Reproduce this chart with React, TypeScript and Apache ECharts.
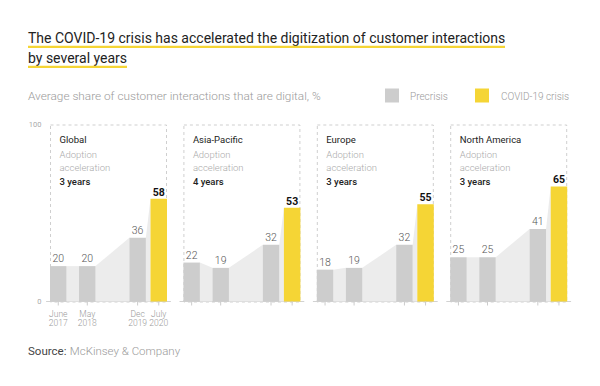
import React, { useEffect, useRef } from 'react';
import * as echarts from 'echarts';

// ---------- data ----------
const regions = ['Global', 'Asia-Pacific', 'Europe', 'North America'];
const accelerationYears = ['3 years', '4 years', '3 years', '3 years'];
const surveyDates = ['2017-06-01', '2018-05-01', '2019-12-01', '2020-07-31'];
const dateLabels = ['June\n2017', 'May\n2018', 'Dec\n2019', 'July\n2020'];
const globalShares = [20, 20, 36, 58];
const asiaPacificShares = [22, 19, 32, 53];
const europeShares = [18, 19, 32, 55];
const northAmericaShares = [25, 25, 41, 65];
const yTicks = [0, 100];
const legendLabels = ['Precrisis', 'COVID-19 crisis'];
const titleLines = [
  'The COVID-19 crisis has accelerated the digitization of customer interactions',
  'by several years',
];
const subtitle = 'Average share of customer interactions that are digital, %';
const sourceLabel = 'Source:';
const sourceName = 'McKinsey & Company';

const panelShares = [globalShares, asiaPacificShares, europeShares, northAmericaShares];

// ---------- style / layout ----------
const FONT = 'Roboto, "Noto Sans", sans-serif';
const GRAY = '#cdcdcd';
const YELLOW = '#f5d535';
const AREA = '#ececec';
const BOX_LEFT0 = 50;
const PANEL_STEP = 133.4;
const BOX_W = 117;
const BAR_W = 16.5;
const AXIS_EXT = 3.5;
const GRID_TOP = 124.5;
const GRID_H = 177;

const times = surveyDates.map((d) => new Date(d + 'T00:00:00Z').getTime());
const span = times[times.length - 1] - times[0];
const padPx = AXIS_EXT + BAR_W / 2;
const pad = (span * padPx) / (BOX_W - BAR_W);

function makeRender(p: number, values: number[]) {
  const n = values.length;
  return (params: any, api: any) => {
    const i = params.dataIndex;
    const t = api.value(0);
    const v = api.value(1);
    const top = api.coord([t, v]);
    const base = api.coord([t, 0]);
    const half = BAR_W / 2;
    const children: any[] = [];
    if (i === 0) {
      const boxTop = api.coord([t, yTicks[1]]);
      const last = api.coord([times[n - 1], 0]);
      children.push({
        type: 'rect',
        shape: {
          x: top[0] - half + 0.5,
          y: boxTop[1] + 0.5,
          width: last[0] + half - (top[0] - half) - 1,
          height: base[1] - boxTop[1],
        },
        style: { fill: 'none', stroke: '#cfcfcf', lineWidth: 1, lineDash: [3, 3] },
      });
    }
    if (i < n - 1) {
      const nTop = api.coord([times[i + 1], values[i + 1]]);
      const nBase = api.coord([times[i + 1], 0]);
      children.push({
        type: 'polygon',
        shape: {
          points: [
            [top[0] + half, top[1]],
            [nTop[0] - half, nTop[1]],
            [nTop[0] - half, nBase[1]],
            [top[0] + half, base[1]],
          ],
        },
        style: { fill: AREA },
      });
    }
    const isCrisis = i === n - 1;
    children.push({
      type: 'rect',
      shape: { x: top[0] - half, y: top[1], width: BAR_W, height: base[1] - top[1] },
      style: { fill: isCrisis ? YELLOW : GRAY },
    });
    children.push({
      type: 'line',
      shape: { x1: top[0], y1: base[1], x2: top[0], y2: base[1] + 4 },
      style: { stroke: '#cccccc', lineWidth: 1 },
    });
    children.push({
      type: 'text',
      x: top[0],
      y: top[1] - (isCrisis ? 1 : 2),
      style: {
        text: String(v),
        align: 'center',
        verticalAlign: 'bottom',
        fill: isCrisis ? '#111' : '#555',
        font: `${isCrisis ? 'bold' : '300'} 10.5px ${FONT}`,
      },
    });
    if (p === 0) {
      children.push({
        type: 'text',
        x: top[0],
        y: base[1] + 8,
        style: {
          text: dateLabels[i],
          align: 'center',
          verticalAlign: 'top',
          fill: '#9a9a9a',
          font: `300 8.5px ${FONT}`,
          lineHeight: 9,
        },
      });
    }
    return { type: 'group', children };
  };
}

export default function App() {
  const ref = useRef<HTMLDivElement>(null);
  useEffect(() => {
    if (!ref.current) return;
    const chart = echarts.init(ref.current, undefined, { renderer: 'svg' });

    const grids: any[] = [];
    const xAxes: any[] = [];
    const yAxes: any[] = [];
    const series: any[] = [];
    const graphics: any[] = [];

    panelShares.forEach((values, p) => {
      const boxLeft = BOX_LEFT0 + PANEL_STEP * p;
      grids.push({ left: boxLeft - AXIS_EXT, top: GRID_TOP, width: BOX_W + 2 * AXIS_EXT, height: GRID_H });
      xAxes.push({
        type: 'time',
        gridIndex: p,
        min: times[0] - pad,
        max: times[times.length - 1] + pad,
        axisLine: { show: true, lineStyle: { color: '#d2d2d2', width: 1 } },
        axisTick: { show: false },
        axisLabel: { show: false },
        splitLine: { show: false },
      });
      yAxes.push({
        type: 'value',
        gridIndex: p,
        min: yTicks[0],
        max: yTicks[1],
        interval: yTicks[1] - yTicks[0],
        axisLine: { show: false },
        axisTick: { show: false },
        splitLine: { show: false },
        axisLabel: {
          show: p === 0,
          color: '#aaa',
          fontSize: 7.5,
          fontFamily: FONT,
          margin: 5,
        },
      });
      series.push({
        type: 'custom',
        xAxisIndex: p,
        yAxisIndex: p,
        data: values.map((v, i) => [times[i], v]),
        renderItem: makeRender(p, values),
        clip: false,
      });
      const tx = boxLeft + 9.5;
      graphics.push(
        { type: 'text', x: tx, y: 139, style: { text: regions[p], fill: '#222', font: `400 9.5px ${FONT}`, verticalAlign: 'middle' } },
        { type: 'text', x: tx, y: 154, style: { text: 'Adoption', fill: '#aaa', font: `300 9.5px ${FONT}`, verticalAlign: 'middle' } },
        { type: 'text', x: tx, y: 167.5, style: { text: 'acceleration', fill: '#aaa', font: `300 9.5px ${FONT}`, verticalAlign: 'middle' } },
        { type: 'text', x: tx, y: 181.5, style: { text: accelerationYears[p], fill: '#222', font: `500 9.5px ${FONT}`, verticalAlign: 'middle' } },
      );
    });

    // Title + underlines
    graphics.push(
      { type: 'text', x: 28, y: 38, style: { text: titleLines[0], fill: '#222', font: `400 14px ${FONT}`, verticalAlign: 'middle' } },
      { type: 'rect', shape: { x: 28, y: 45.8, width: 477, height: 2.2 }, style: { fill: YELLOW } },
      { type: 'text', x: 28, y: 57.5, style: { text: titleLines[1], fill: '#222', font: `400 14px ${FONT}`, verticalAlign: 'middle' } },
      { type: 'rect', shape: { x: 28, y: 65.8, width: 99, height: 2.2 }, style: { fill: YELLOW } },
      { type: 'text', x: 28, y: 96, style: { text: subtitle, fill: '#9a9a9a', font: `300 11.8px ${FONT}`, verticalAlign: 'middle' } },
      // legend
      { type: 'rect', shape: { x: 385, y: 88.5, width: 14, height: 14 }, style: { fill: GRAY } },
      { type: 'text', x: 410, y: 96, style: { text: legendLabels[0], fill: '#9a9a9a', font: `300 10px ${FONT}`, verticalAlign: 'middle' } },
      { type: 'rect', shape: { x: 475, y: 88.5, width: 14, height: 14 }, style: { fill: YELLOW } },
      { type: 'text', x: 501, y: 96, style: { text: legendLabels[1], fill: '#9a9a9a', font: `300 10px ${FONT}`, verticalAlign: 'middle' } },
      // source
      {
        type: 'text',
        x: 28,
        y: 351,
        style: {
          text: `{a|${sourceLabel}} {b|${sourceName}}`,
          verticalAlign: 'middle',
          rich: {
            a: { fill: '#444', font: `400 11.5px ${FONT}` },
            b: { fill: '#9a9a9a', font: `300 11.5px ${FONT}` },
          },
        },
      },
    );

    chart.setOption({
      animation: false,
      backgroundColor: '#fff',
      grid: grids,
      xAxis: xAxes,
      yAxis: yAxes,
      series,
      graphic: graphics,
    });
    return () => chart.dispose();
  }, []);
  return <div ref={ref} style={{ width: 600, height: 386, position: 'absolute', left: 0, top: 0 }} />;
}
